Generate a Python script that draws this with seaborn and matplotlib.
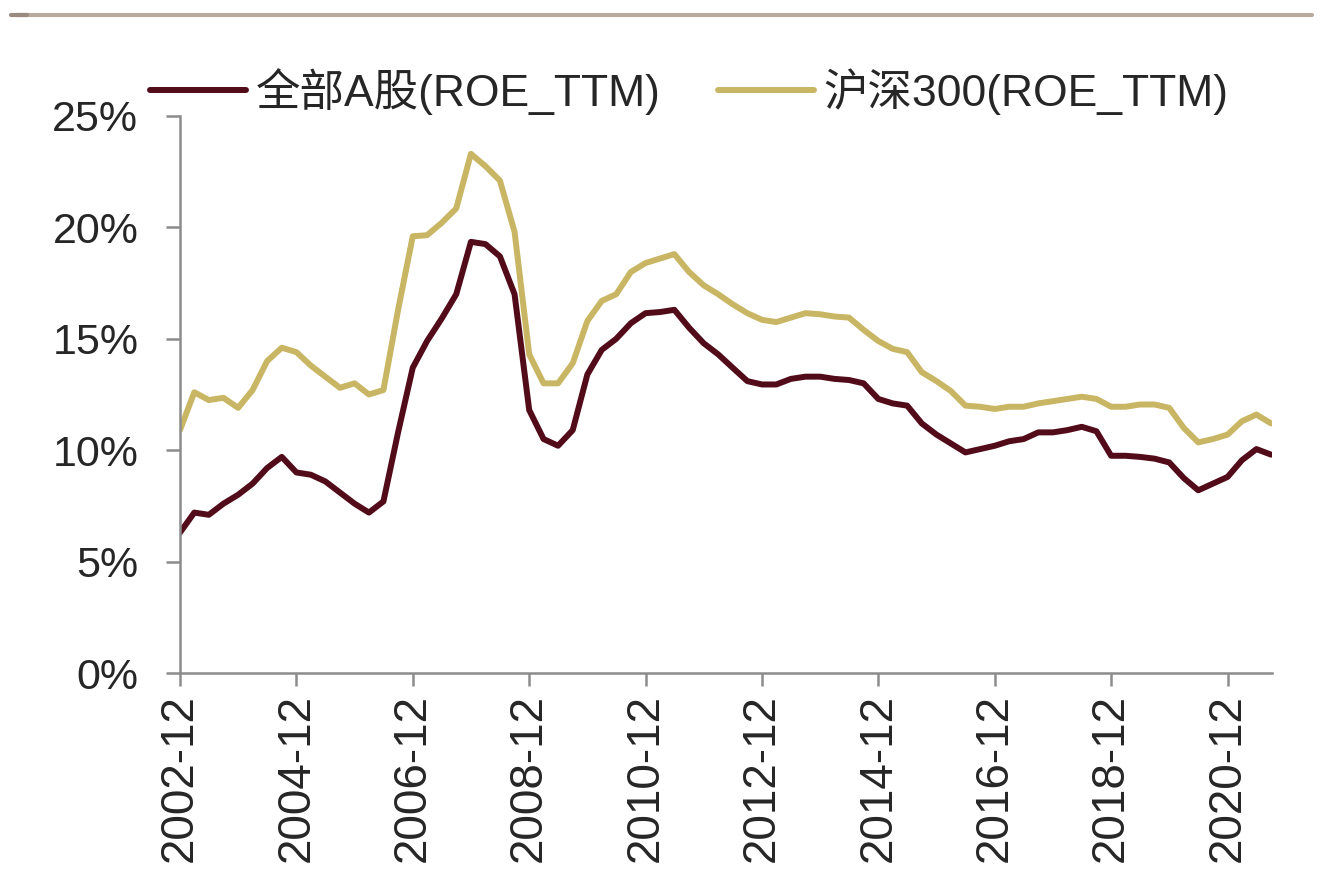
import matplotlib
matplotlib.use("Agg")
import matplotlib.pyplot as plt
import matplotlib.dates as mdates
from matplotlib.lines import Line2D
from matplotlib.ticker import FuncFormatter
import numpy as np
import pandas as pd
import seaborn as sns

# Quarterly ROE (TTM), %, 2002-12 .. 2021-09
quarters = pd.date_range("2002-12-31", "2021-09-30", freq="QE")

roe_all_a = [
    6.3, 7.2, 7.1, 7.6, 8.0, 8.5, 9.2, 9.7, 9.0, 8.9,
    8.6, 8.1, 7.6, 7.2, 7.7, 10.8, 13.7, 14.9, 15.9, 17.0,
    19.35, 19.25, 18.7, 17.0, 11.8, 10.5, 10.2, 10.9, 13.4, 14.5,
    15.0, 15.7, 16.15, 16.2, 16.3, 15.5, 14.8, 14.3, 13.7, 13.1,
    12.95, 12.95, 13.2, 13.3, 13.3, 13.2, 13.15, 13.0, 12.3, 12.1,
    12.0, 11.2, 10.7, 10.3, 9.9, 10.05, 10.2, 10.4, 10.5, 10.8,
    10.8, 10.9, 11.05, 10.85, 9.75, 9.75, 9.7, 9.62, 9.45, 8.75,
    8.2, 8.5, 8.8, 9.55, 10.05, 9.8,
]

roe_hs300 = [
    10.9, 12.6, 12.25, 12.35, 11.9, 12.7, 14.0, 14.6, 14.4, 13.8,
    13.3, 12.8, 13.0, 12.5, 12.7, 16.3, 19.6, 19.65, 20.2, 20.85,
    23.3, 22.75, 22.1, 19.8, 14.3, 13.0, 13.0, 13.9, 15.8, 16.7,
    17.0, 18.0, 18.4, 18.6, 18.8, 18.0, 17.4, 17.0, 16.55, 16.15,
    15.85, 15.75, 15.95, 16.15, 16.1, 16.0, 15.95, 15.4, 14.9, 14.55,
    14.4, 13.5, 13.1, 12.65, 12.0, 11.95, 11.85, 11.95, 11.95, 12.1,
    12.2, 12.3, 12.4, 12.3, 11.95, 11.95, 12.05, 12.05, 11.9, 11.0,
    10.35, 10.5, 10.7, 11.3, 11.6, 11.2,
]

series_names = ["全部A股(ROE_TTM)", "沪深300(ROE_TTM)"]
series_colors = ["#520b19", "#c9b664"]
y_ticks = [0, 5, 10, 15, 20, 25]

df = pd.DataFrame({
    "date": list(quarters) * 2,
    "roe": roe_all_a + roe_hs300,
    "series": [series_names[0]] * len(quarters) + [series_names[1]] * len(quarters),
})

sns.set_theme(style="white")
plt.rcParams["font.family"] = ["Liberation Sans", "Noto Sans CJK SC", "DejaVu Sans"]

fig = plt.figure(figsize=(13.36, 8.72), dpi=100)
ax = fig.add_axes([0.1347, 0.2282, 0.8173, 0.6388])

sns.lineplot(
    data=df, x="date", y="roe", hue="series",
    palette=dict(zip(series_names, series_colors)),
    linewidth=4.3, ax=ax, legend=False,
)

ax.set_xlim(quarters[0], quarters[-1] + pd.Timedelta(days=5))
ax.set_ylim(0, 25)
ax.set_yticks(y_ticks)
ax.yaxis.set_major_formatter(FuncFormatter(lambda v, _: f"{v:.0f}%"))

xt = [d for d in quarters if d.month == 12 and d.year % 2 == 0]
ax.set_xticks(xt)
ax.xaxis.set_major_formatter(mdates.DateFormatter("%Y-%m"))
ax.set_xlabel("")
ax.set_ylabel("")

for side in ["top", "right"]:
    ax.spines[side].set_visible(False)
for side in ["left", "bottom"]:
    ax.spines[side].set_color("#8c8c8c")
    ax.spines[side].set_linewidth(1.8)

ax.tick_params(axis="y", direction="out", length=10, width=1.8, color="#8c8c8c",
               pad=20, labelsize=31, labelcolor="#262626", left=True)
ax.tick_params(axis="x", direction="out", length=9, width=1.8, color="#8c8c8c",
               pad=6, labelsize=33, labelcolor="#262626", bottom=True, labelrotation=90)

handles = [Line2D([0], [0], color=c, linewidth=4.3) for c in series_colors]
fig.legend(handles, series_names, loc="center left", bbox_to_anchor=(0.096, 0.895),
           ncol=2, frameon=False, fontsize=32, handlelength=2.15, handletextpad=0.22,
           columnspacing=1.3, borderpad=0, labelcolor="#262626")

# decorative rule along the top edge
fig.add_artist(Line2D([0.012, 0.982], [0.983, 0.983], color="#b9aa9e", linewidth=3,
                      transform=fig.transFigure))
fig.add_artist(Line2D([0.008, 0.02], [0.983, 0.983], color="#9a8a80", linewidth=3,
                      transform=fig.transFigure))

fig.savefig("out.png", dpi=100)
